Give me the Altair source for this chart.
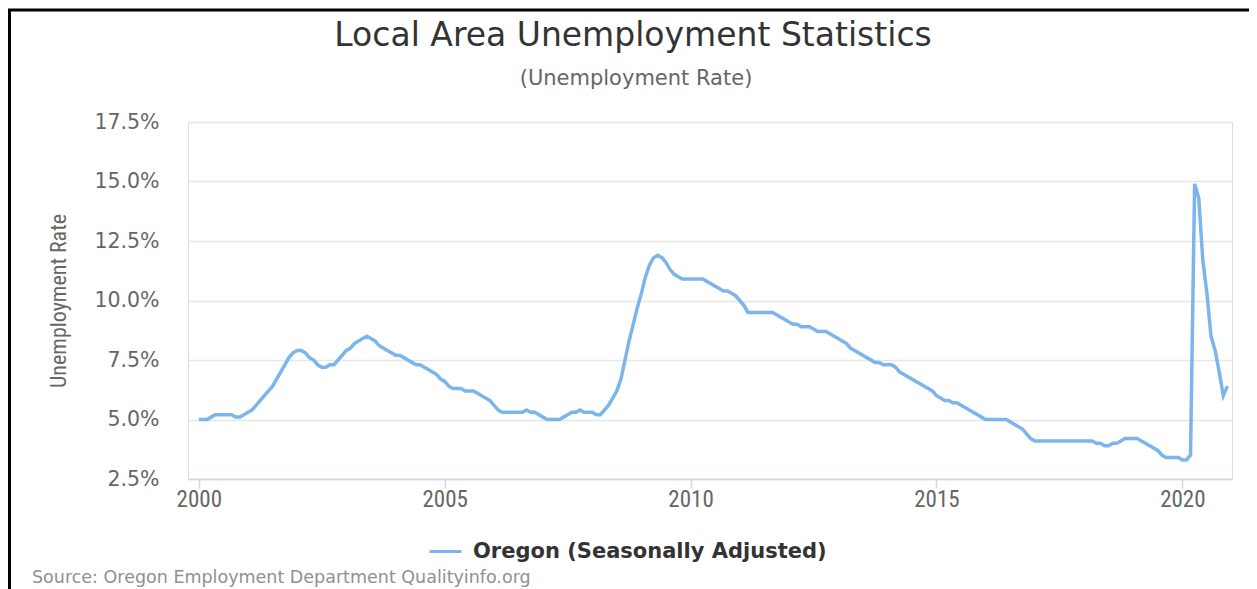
import altair as alt
import pandas as pd

SERIES = "Oregon (Seasonally Adjusted)"
TITLE = "Local Area Unemployment Statistics"
SUBTITLE = "(Unemployment Rate)"
Y_TITLE = "Unemployment Rate"
SOURCE = "Source: Oregon Employment Department Qualityinfo.org"

years = list(range(2000, 2021))
x_ticks = [2000, 2005, 2010, 2015, 2020]
y_ticks = [2.5, 5.0, 7.5, 10.0, 12.5, 15.0, 17.5]

# monthly unemployment rate (%), Jan..Dec
r2000 = [5.0, 5.0, 5.0, 5.1, 5.2, 5.2, 5.2, 5.2, 5.2, 5.1, 5.1, 5.2]
r2001 = [5.3, 5.4, 5.6, 5.8, 6.0, 6.2, 6.4, 6.7, 7.0, 7.3, 7.6, 7.8]
r2002 = [7.9, 7.9, 7.8, 7.6, 7.5, 7.3, 7.2, 7.2, 7.3, 7.3, 7.5, 7.7]
r2003 = [7.9, 8.0, 8.2, 8.3, 8.4, 8.5, 8.4, 8.3, 8.1, 8.0, 7.9, 7.8]
r2004 = [7.7, 7.7, 7.6, 7.5, 7.4, 7.3, 7.3, 7.2, 7.1, 7.0, 6.9, 6.7]
r2005 = [6.6, 6.4, 6.3, 6.3, 6.3, 6.2, 6.2, 6.2, 6.1, 6.0, 5.9, 5.8]
r2006 = [5.6, 5.4, 5.3, 5.3, 5.3, 5.3, 5.3, 5.3, 5.4, 5.3, 5.3, 5.2]
r2007 = [5.1, 5.0, 5.0, 5.0, 5.0, 5.1, 5.2, 5.3, 5.3, 5.4, 5.3, 5.3]
r2008 = [5.3, 5.2, 5.2, 5.4, 5.6, 5.9, 6.2, 6.7, 7.5, 8.3, 9.0, 9.7]
r2009 = [10.3, 11.0, 11.5, 11.8, 11.9, 11.8, 11.6, 11.3, 11.1, 11.0, 10.9, 10.9]
r2010 = [10.9, 10.9, 10.9, 10.9, 10.8, 10.7, 10.6, 10.5, 10.4, 10.4, 10.3, 10.2]
r2011 = [10.0, 9.8, 9.5, 9.5, 9.5, 9.5, 9.5, 9.5, 9.5, 9.4, 9.3, 9.2]
r2012 = [9.1, 9.0, 9.0, 8.9, 8.9, 8.9, 8.8, 8.7, 8.7, 8.7, 8.6, 8.5]
r2013 = [8.4, 8.3, 8.2, 8.0, 7.9, 7.8, 7.7, 7.6, 7.5, 7.4, 7.4, 7.3]
r2014 = [7.3, 7.3, 7.2, 7.0, 6.9, 6.8, 6.7, 6.6, 6.5, 6.4, 6.3, 6.2]
r2015 = [6.0, 5.9, 5.8, 5.8, 5.7, 5.7, 5.6, 5.5, 5.4, 5.3, 5.2, 5.1]
r2016 = [5.0, 5.0, 5.0, 5.0, 5.0, 5.0, 4.9, 4.8, 4.7, 4.6, 4.4, 4.2]
r2017 = [4.1, 4.1, 4.1, 4.1, 4.1, 4.1, 4.1, 4.1, 4.1, 4.1, 4.1, 4.1]
r2018 = [4.1, 4.1, 4.1, 4.0, 4.0, 3.9, 3.9, 4.0, 4.0, 4.1, 4.2, 4.2]
r2019 = [4.2, 4.2, 4.1, 4.0, 3.9, 3.8, 3.7, 3.5, 3.4, 3.4, 3.4, 3.4]
r2020 = [3.3, 3.3, 3.5, 14.9, 14.3, 11.7, 10.3, 8.5, 7.9, 7.0, 6.0, 6.4]

rates_by_year = [r2000, r2001, r2002, r2003, r2004, r2005, r2006, r2007,
                 r2008, r2009, r2010, r2011, r2012, r2013, r2014, r2015,
                 r2016, r2017, r2018, r2019, r2020]

rows = []
for yr, vals in zip(years, rates_by_year):
    for m, v in enumerate(vals):
        rows.append({"t": yr + m / 12.0, "rate": v, "series": SERIES})
df = pd.DataFrame(rows)

COND = "Liberation Sans Narrow, Roboto Condensed, Open Sans Condensed, sans-serif"

line = alt.Chart(df).mark_line(strokeWidth=3.5, interpolate="linear").encode(
    x=alt.X(
        "t:Q",
        scale=alt.Scale(domain=[1999.78, 2021.01], nice=False, zero=False),
        axis=alt.Axis(values=x_ticks, format="d", title=None, grid=False,
                      domainColor="#ccd6eb", domainWidth=1.5,
                      tickColor="#ccd6eb", tickWidth=1.5, tickSize=9,
                      labelPadding=0, labelFont=COND, labelFontSize=23,
                      labelColor="#666666"),
    ),
    y=alt.Y(
        "rate:Q",
        scale=alt.Scale(domain=[2.5, 17.5], nice=False, zero=False),
        axis=alt.Axis(values=y_ticks,
                      labelExpr="format(datum.value, '.1f') + '%'",
                      title=Y_TITLE, titleFont=COND, titleFontSize=22,
                      titleFontWeight="normal", titleColor="#666666",
                      titleX=-130, titleY=178.5, titleBaseline="middle",
                      titleAlign="center", titleAngle=270,
                      domain=False, ticks=False, labelPadding=29,
                      labelFont="DejaVu Sans", labelFontSize=20.5,
                      labelColor="#666666",
                      grid=True, gridColor="#e6e6e6", gridWidth=1.5),
    ),
    color=alt.Color(
        "series:N",
        scale=alt.Scale(range=["#7cb5ec"]),
        legend=alt.Legend(title=None, orient="none", legendX=240, legendY=412,
                          symbolType="stroke", symbolSize=1024,
                          symbolStrokeWidth=3, labelOffset=10, labelLimit=0,
                          labelFont="DejaVu Sans", labelFontSize=21,
                          labelFontWeight="bold", labelColor="#333333"),
    ),
)

border = alt.Chart(pd.DataFrame({"k": [0]})).mark_rect(
    fillOpacity=0, stroke="black", strokeWidth=3
).encode(
    x=alt.value(-178.5), x2=alt.value(1200), y=alt.value(-112), y2=alt.value(700)
)

title_txt = alt.Chart(pd.DataFrame({"label": [TITLE]})).mark_text(
    align="center", baseline="alphabetic", font="DejaVu Sans", fontSize=33,
    color="#333333"
).encode(x=alt.value(445), y=alt.value(-76), text="label:N")

subtitle_txt = alt.Chart(pd.DataFrame({"label": [SUBTITLE]})).mark_text(
    align="center", baseline="alphabetic", font="DejaVu Sans", fontSize=21,
    color="#666666"
).encode(x=alt.value(448), y=alt.value(-37), text="label:N")

source = alt.Chart(pd.DataFrame({"label": [SOURCE]})).mark_text(
    align="left", baseline="alphabetic", font="DejaVu Sans", fontSize=17.5,
    color="#909090"
).encode(x=alt.value(-156), y=alt.value(461), text="label:N")

chart = alt.layer(border, line, title_txt, subtitle_txt, source).properties(
    width=1044,
    height=357,
    padding={"left": 180, "top": 114, "right": 17, "bottom": 110},
    autosize=alt.AutoSizeParams(type="none"),
).configure_view(stroke=None).configure(background="white")

chart.save("out.html", embed_options={"renderer": "svg", "actions": False})
